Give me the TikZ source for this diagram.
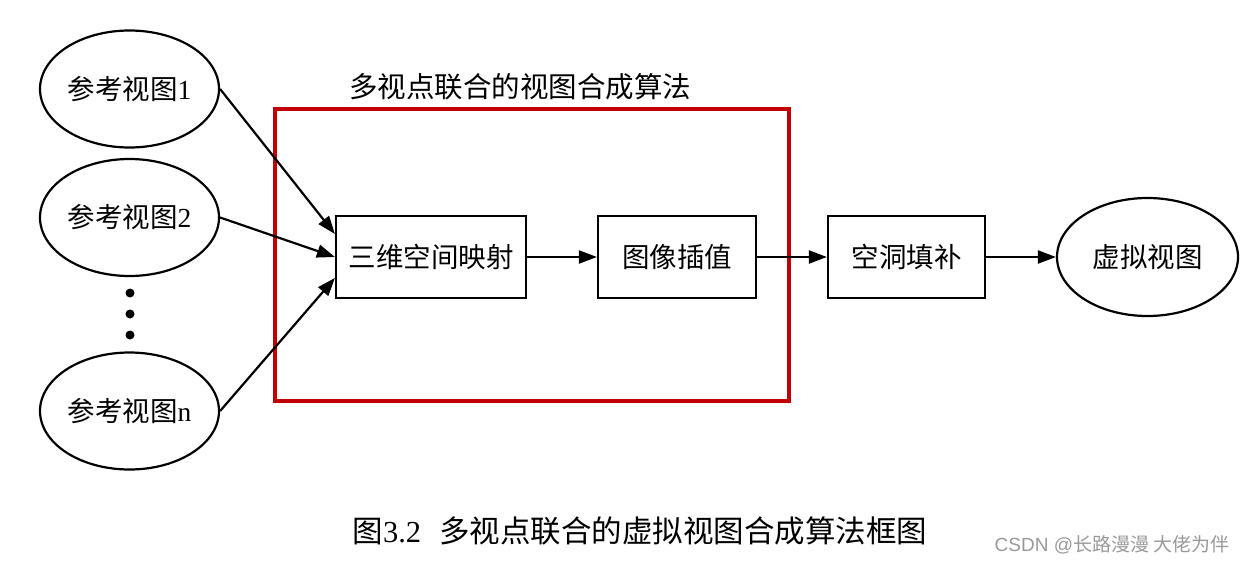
\documentclass[tikz,border=0pt]{standalone}
\usepackage{fontspec}
\setmainfont{Liberation Serif}
\newfontfamily\cjk{Noto Sans CJK SC}
\newfontfamily\wmfont{Liberation Sans}
\usetikzlibrary{shapes.geometric,arrows.meta,calc}
\definecolor{boxred}{RGB}{192,0,0}
\begin{document}
\begin{tikzpicture}[x=1pt,y=-1pt,
  txt/.style={font=\fontsize{27.5}{30}\selectfont, inner sep=0pt},
  viewell/.style={ellipse, draw=black, line width=2.2pt, minimum width=179pt, minimum height=117pt, txt},
  procbox/.style={rectangle, draw=black, line width=2.2pt, minimum height=82pt, txt},
  arr/.style={-{Triangle[length=18pt,width=13pt]}, line width=2.2pt, black},
  dotmark/.style={circle, fill=black, inner sep=0pt, minimum size=9pt}
]
\useasboundingbox (0,0) rectangle (1246,565);
% red frame
\draw[boxred, line width=3.2pt] (275,109) rectangle (789,401);
\node[font=\fontsize{28.5}{31}\selectfont, inner sep=0pt] (title) at (520,87) {\cjk 多视点联合的视图合成算法};
% input views
\node[viewell] (v1) at (129.5,89) {{\cjk 参考视图}1};
\node[viewell] (v2) at (129.5,217.5) {{\cjk 参考视图}2};
\node[viewell] (vn) at (129.5,411) {{\cjk 参考视图}n};
\node[dotmark] (d1) at (130,293) {};
\node[dotmark] (d2) at (130,314) {};
\node[dotmark] (d3) at (130,335) {};
% process boxes
\node[procbox, minimum width=190pt] (b1) at (431,257) {\cjk 三维空间映射};
\node[procbox, minimum width=158pt] (b2) at (677,257) {\cjk 图像插值};
\node[procbox, minimum width=157pt] (b3) at (906.5,257) {\cjk 空洞填补};
\node[viewell, minimum width=181pt, minimum height=118pt] (out) at (1147.5,257) {\cjk 虚拟视图};
% connectors
\coordinate (t1) at ($(b1.west)+(0,-23)$);
\coordinate (tn) at ($(b1.west)+(0,21)$);
\draw[arr] (v1.east) -- (t1);
\draw[arr] (v2.east) -- (b1.west);
\draw[arr] (vn.east) -- (tn);
\draw[arr] (b1.east) -- (b2.west);
\draw[arr] (b2.east) -- (b3.west);
\draw[arr] (b3.east) -- (out.west);
% caption
\node[font=\fontsize{30.5}{33}\selectfont, inner sep=0pt] (cap) at (640,531) {{\cjk 图}3.2\hspace{0.6em}{\cjk 多视点联合的虚拟视图合成算法框图}};
\node[font=\fontsize{19}{22}\selectfont, text=gray!80, inner sep=0pt] (wm) at (1112,545) {\wmfont CSDN @{\cjk 长路漫漫 大佬为伴}};
\end{tikzpicture}
\end{document}
